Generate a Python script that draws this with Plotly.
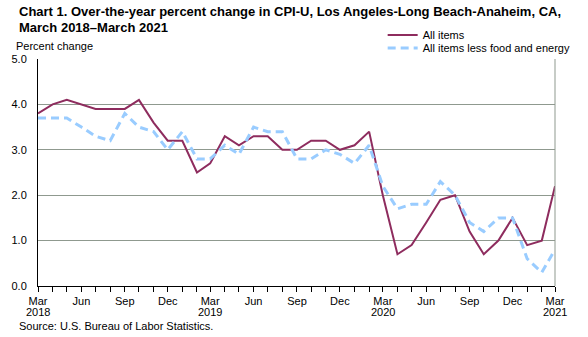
import plotly.graph_objects as go
import pandas as pd

# ---- data ----
months = pd.date_range("2018-03-01", periods=37, freq="MS")
all_items = [3.8, 4.0, 4.1, 4.0, 3.9, 3.9, 3.9, 4.1, 3.6, 3.2,
             3.2, 2.5, 2.7, 3.3, 3.1, 3.3, 3.3, 3.0, 3.0, 3.2, 3.2, 3.0,
             3.1, 3.4, 2.0, 0.7, 0.9, 1.4, 1.9, 2.0, 1.2, 0.7, 1.0, 1.5,
             0.9, 1.0, 2.2]
core = [3.7, 3.7, 3.7, 3.5, 3.3, 3.2, 3.8, 3.5, 3.4, 3.0,
        3.4, 2.8, 2.8, 3.1, 2.9, 3.5, 3.4, 3.4, 2.8, 2.8, 3.0, 2.9,
        2.7, 3.1, 2.2, 1.7, 1.8, 1.8, 2.3, 2.0, 1.4, 1.2, 1.5, 1.5,
        0.6, 0.3, 0.8]
series_names = ["All items", "All items less food and energy"]
y_ticks = [0, 1, 2, 3, 4, 5]


def month_label(d):
    m = d.strftime("%b")
    return m if m in ("Mar", "Jun", "Sep", "Dec") else ""


tick_text = [month_label(d) for d in months]
year_ticks = [d for d in months if d.month == 3]

# ---- layout geometry (pixels) ----
W, H = 588, 337
L, R, T, B = 27, 567, 59, 286


def px_x(x):
    return (x - L) / (R - L)


def px_y(y):
    return (B - y) / (B - T)


FONT = "Liberation Sans, Arial, sans-serif"
GRID = "#8f998f"

fig = go.Figure()
fig.add_trace(go.Scatter(x=months, y=all_items, mode="lines", name=series_names[0],
                         line=dict(color="#8E2C5E", width=2), legend="legend"))
fig.add_trace(go.Scatter(x=months, y=core, mode="lines", name=series_names[1],
                         line=dict(color="#99CCFF", width=3, dash="8px,5px"),
                         legend="legend2"))

annotations = [
    dict(text="<b>Chart 1. Over-the-year percent change in CPI-U, Los Angeles-Long Beach-Anaheim, CA,</b>",
         xref="paper", yref="paper", x=px_x(5), y=px_y(12), xanchor="left", yanchor="middle",
         showarrow=False, font=dict(size=13, family=FONT)),
    dict(text="<b>March 2018–March 2021</b>",
         xref="paper", yref="paper", x=px_x(5), y=px_y(27), xanchor="left", yanchor="middle",
         showarrow=False, font=dict(size=13, family=FONT)),
    dict(text="Percent change", xref="paper", yref="paper", x=px_x(2), y=px_y(46),
         xanchor="left", yanchor="middle", showarrow=False, font=dict(size=11)),
    dict(text="Source: U.S. Bureau of Labor Statistics.", xref="paper", yref="paper",
         x=px_x(5), y=px_y(326), xanchor="left", yanchor="middle", showarrow=False,
         font=dict(size=11)),
]
for d in year_ticks:
    annotations.append(dict(text=str(d.year), xref="x", yref="paper", x=d, y=px_y(312),
                            xanchor="center", yanchor="middle", showarrow=False,
                            font=dict(size=11)))

fig.update_layout(
    width=W, height=H, autosize=False,
    margin=dict(l=L, r=W - R, t=T, b=H - B),
    paper_bgcolor="white", plot_bgcolor="white",
    font=dict(family=FONT, size=11, color="black"),
    showlegend=True,
    legend=dict(x=px_x(387), y=px_y(35), xanchor="left", yanchor="middle",
                bgcolor="rgba(0,0,0,0)", font=dict(size=11)),
    legend2=dict(x=px_x(387), y=px_y(48), xanchor="left", yanchor="middle",
                 bgcolor="rgba(0,0,0,0)", font=dict(size=11)),
    xaxis=dict(
        range=[months[0], months[-1]],
        tickmode="array", tickvals=months, ticktext=tick_text,
        ticks="outside", ticklen=5, tickcolor="black", tickwidth=1,
        showline=True, linecolor="black", linewidth=1,
        showgrid=False, zeroline=False, tickangle=0,
        tickfont=dict(size=11),
    ),
    yaxis=dict(
        range=[0, 5], tickmode="array", tickvals=y_ticks,
        tickformat=".1f", showgrid=True, gridcolor=GRID, gridwidth=1,
        showline=True, linecolor="black", linewidth=1,
        zeroline=False, ticks="", ticklabelstandoff=8,
        tickfont=dict(size=11),
    ),
    shapes=[
        dict(type="line", xref="paper", yref="paper", x0=1, x1=1, y0=0, y1=1,
             line=dict(color=GRID, width=1)),
    ],
    annotations=annotations,
)

fig.write_html("out.html")
